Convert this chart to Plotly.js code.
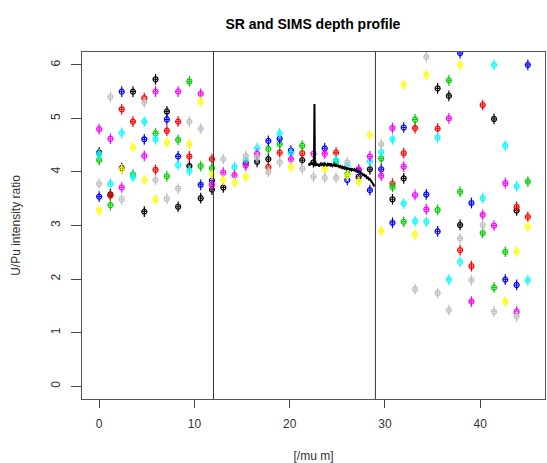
<!DOCTYPE html>
<html>
<head>
<meta charset="utf-8">
<script src="https://cdn.plot.ly/plotly-3.0.1.min.js"></script>
<style>html,body{margin:0;padding:0;background:#fff}#chart{width:547px;height:463px}</style>
</head>
<body>
<div id="chart"></div>
<script>
// SR measurement depths (micrometres)
var depth = [0,1.18,2.37,3.55,4.74,5.92,7.11,8.29,9.47,10.66,11.84,13.03,14.21,15.39,16.58,17.76,18.95,20.13,21.32,22.50,23.68,24.87,26.05,27.24,28.42,29.61,30.79,31.97,33.16,34.34,35.53,36.71,37.89,39.08,40.26,41.45,42.63,43.82,45.00];

// SR U/Pu ratios, one array per measurement series (R palette colours)
var srBlack   = [4.36,3.58,4.07,5.50,3.26,5.73,5.13,3.35,4.11,3.51,3.67,3.71,null,4.17,4.19,4.24,null,null,4.22,4.18,null,null,null,3.91,4.05,null,3.49,3.88,null,null,5.56,5.42,3.01,null,null,4.99,null,3.28,null];
var srRed     = [null,3.56,5.17,4.94,5.38,4.04,4.77,4.94,4.29,null,4.24,null,null,null,null,4.09,4.36,null,4.35,null,null,4.36,null,null,null,null,3.78,4.35,4.82,null,4.81,null,2.54,2.24,5.25,null,null,3.35,3.16];
var srGreen   = [4.22,3.38,null,3.95,null,4.72,3.92,4.60,5.69,4.11,4.07,null,null,null,null,4.43,4.52,null,4.49,null,null,4.19,3.96,null,null,4.25,3.72,3.07,4.98,null,3.29,5.71,3.63,null,2.86,1.84,2.51,null,3.82];
var srBlue    = [3.54,null,5.50,null,4.61,null,4.98,4.29,null,3.76,3.84,null,null,null,null,4.58,4.62,4.40,null,null,4.44,null,3.85,4.03,3.66,4.05,3.05,4.83,null,3.58,2.89,null,6.22,3.42,null,null,1.99,1.89,6.00];
var srCyan    = [4.33,3.78,4.73,3.91,4.94,4.61,null,4.13,4.02,null,null,null,4.09,4.22,4.44,null,4.72,4.35,null,null,null,4.22,4.12,null,4.20,4.37,4.61,3.41,3.08,3.07,4.64,1.99,2.32,null,3.51,6.00,4.49,3.73,1.98];
var srMagenta = [4.80,4.62,3.71,null,4.30,5.50,null,5.50,null,5.46,3.76,3.99,3.94,4.12,4.34,null,null,4.24,null,4.34,4.34,null,null,4.05,4.29,3.93,4.82,4.10,3.57,3.30,null,5.00,null,1.58,3.20,3.00,3.79,1.39,null];
var srYellow  = [3.28,null,4.05,4.46,3.85,3.48,4.55,null,4.52,5.31,3.95,3.85,3.80,3.91,null,null,null,4.09,null,null,4.06,null,3.93,3.82,4.69,2.90,null,5.63,2.83,5.81,null,null,6.00,null,null,null,1.58,2.51,2.98];
var srGray    = [3.78,5.40,3.49,null,5.30,3.85,3.50,3.69,4.94,4.81,null,4.24,null,4.30,4.27,4.00,4.18,null,4.06,3.91,3.89,3.89,4.18,null,null,4.52,null,null,1.81,6.15,1.74,1.42,2.76,1.98,3.01,1.39,null,1.30,null];

var seriesNames  = ['black','red','green3','blue','cyan','magenta','yellow','gray'];
var seriesColors = ['#000000','#FF0000','#00CD00','#0000FF','#00FFFF','#FF00FF','#FFFF00','#BEBEBE'];
var seriesValues = [srBlack,srRed,srGreen,srBlue,srCyan,srMagenta,srYellow,srGray];

// SIMS profile
var simsDepth = [22.0,22.1,22.2,22.3,22.4,22.5,22.55,22.6,22.65,22.7,22.8,22.9,23.0,23.1,23.2,23.3,23.4,23.5,23.6,23.7,23.8,23.9,24.0,24.1,24.2,24.3,24.4,24.5,24.6,24.7,24.8,24.9,25.0,25.1,25.2,25.3,25.4,25.5,25.6,25.7,25.8,25.9,26.0,26.1,26.2,26.3,26.4,26.5,26.6,26.7,26.8,26.9,27.0,27.1,27.2,27.3,27.4,27.5,27.6,27.7,27.8,27.9,28.0,28.1,28.2,28.3,28.4,28.5,28.6,28.7,28.8,28.9];
var simsRatio = [4.16,4.12,4.17,4.14,4.18,4.13,4.15,5.27,4.14,4.11,4.16,4.12,4.15,4.10,4.14,4.17,4.13,4.15,4.11,4.16,4.14,4.12,4.15,4.13,4.16,4.12,4.14,4.11,4.13,4.15,4.10,4.13,4.11,4.12,4.09,4.11,4.08,4.10,4.07,4.09,4.06,4.08,4.05,4.07,4.06,4.04,4.07,4.03,4.05,4.03,4.05,4.02,4.04,4.01,4.02,3.99,4.00,3.97,3.97,3.94,3.95,3.92,3.93,3.89,3.90,3.86,3.87,3.85,3.82,3.79,3.76,3.73];

// layer boundaries
var boundaries = [12, 29];

var xTicks = [0,10,20,30,40];
var yTicks = [0,1,2,3,4,5,6];

var traces = [];
for (var s = 0; s < seriesValues.length; s++) {
  traces.push({
    type: 'scatter', mode: 'markers', name: seriesNames[s],
    x: depth, y: seriesValues[s],
    marker: {symbol: 'circle-open', size: 5, color: seriesColors[s], line: {width: 1.2, color: seriesColors[s]}},
    error_y: {type: 'constant', value: 0.1, width: 0, thickness: 1.2, color: seriesColors[s]},
    error_x: {type: 'constant', value: 0.22, width: 0, thickness: 1, color: seriesColors[s]},
    hoverinfo: 'x+y', cliponaxis: true
  });
}
traces.push({
  type: 'scatter', mode: 'lines', name: 'SIMS',
  x: simsDepth, y: simsRatio,
  line: {color: '#000000', width: 2}
});

var shapes = boundaries.map(function (b) {
  return {type: 'line', xref: 'x', yref: 'paper', x0: b, x1: b, y0: 0, y1: 1,
          line: {color: '#333333', width: 1}};
});

var font = {family: '"Liberation Sans", Arial, Helvetica, sans-serif', size: 12, color: '#333333'};

var layout = {
  width: 547, height: 463,
  margin: {l: 82, r: 2, t: 52, b: 64},
  paper_bgcolor: '#ffffff', plot_bgcolor: '#ffffff',
  showlegend: false,
  font: font,
  title: {text: 'SR and SIMS depth profile', x: 0.572, xanchor: 'center', y: 0.948, yanchor: 'middle',
          font: {family: '"Liberation Sans", Arial, sans-serif', size: 14, color: '#000000', weight: 'bold'}},
  xaxis: {
    range: [-1.8, 46.8], tickvals: xTicks, ticktext: xTicks.map(String),
    ticks: 'outside', ticklen: 8, tickwidth: 1, tickcolor: '#444',
    showline: true, mirror: true, linecolor: '#555', linewidth: 1,
    showgrid: false, zeroline: false, ticklabelstandoff: 6,
    title: {text: '[/mu m]', standoff: 22, font: {size: 12, color: '#333'}},
    automargin: false
  },
  yaxis: {
    range: [-0.24, 6.24], tickvals: yTicks, ticktext: yTicks.map(String),
    ticks: 'outside', ticklen: 10, tickwidth: 1, tickcolor: '#444', tickangle: -90,
    showline: true, mirror: true, linecolor: '#555', linewidth: 1,
    showgrid: false, zeroline: false, ticklabelstandoff: 6,
    title: {text: 'U/Pu intensity ratio', standoff: 26, font: {size: 12, color: '#333'}},
    automargin: false
  },
  shapes: shapes
};

Plotly.newPlot('chart', traces, layout, {displayModeBar: false, staticPlot: true});
</script>
</body>
</html>
